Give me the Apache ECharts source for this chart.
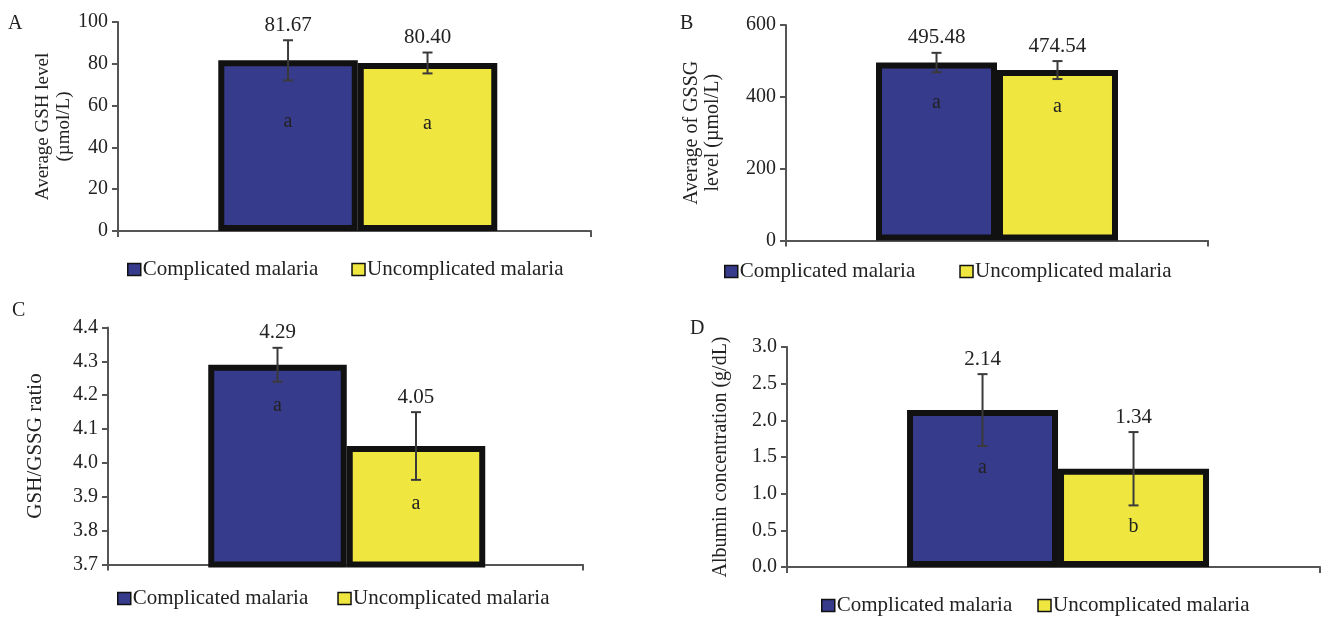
<!DOCTYPE html>
<html>
<head>
<meta charset="utf-8">
<script src="https://cdn.jsdelivr.net/npm/echarts@6/dist/echarts.min.js"></script>
<style>
  html, body { margin: 0; padding: 0; background: #fff; }
  #chart { width: 1322px; height: 618px; }
</style>
</head>
<body>
<div id="chart"></div>
<script>
// groups compared in every panel
const groups = ['Complicated malaria', 'Uncomplicated malaria'];

// A: GSH
const gshMean = [81.67, 80.40];
const gshErr = [9.6, 5];
const gshLetters = ['a', 'a'];
const gshTicks = [0, 100, 20];

// B: GSSG
const gssgMean = [495.48, 474.54];
const gssgErr = [27, 25];
const gssgLetters = ['a', 'a'];
const gssgTicks = [0, 600, 200];

// C: GSH/GSSG ratio
const ratioMean = [4.29, 4.05];
const ratioErr = [0.05, 0.1];
const ratioLetters = ['a', 'a'];
const ratioTicks = [3.7, 4.4, 0.1];

// D: albumin
const albMean = [2.14, 1.34];
const albErr = [0.49, 0.5];
const albLetters = ['a', 'b'];
const albTicks = [0, 3, 0.5];

const BLUE = '#373b8b';
const YELLOW = '#efe73f';
const FONT = '"Liberation Serif", "DejaVu Serif", serif';

// layout of each panel (pixels)
const panels = [
  { tag: 'A', mean: gshMean, err: gshErr, letters: gshLetters, ticks: gshTicks, dec: 0,
    grid: { left: 118, top: 22, width: 473, height: 209 }, xMin: -1.219, xMax: 2.172, barW: 139.5,
    name: 'Average GSH level\n(µmol/L)', nameSize: 19, nameGap: 43,
    letterOff: [61, 61], titlePos: [8, 14], legendPos: [127, 259], legendGap: 33 },
  { tag: 'B', mean: gssgMean, err: gssgErr, letters: gssgLetters, ticks: gssgTicks, dec: 0,
    grid: { left: 786, top: 25, width: 422, height: 215.5 }, xMin: -1.244, xMax: 2.244, barW: 121,
    name: 'Average of GSSG\nlevel (µmol/L)', nameSize: 20, nameGap: 63,
    letterOff: [40, 37], titlePos: [680, 14], legendPos: [724, 261], legendGap: 44 },
  { tag: 'C', mean: ratioMean, err: ratioErr, letters: ratioLetters, ticks: ratioTicks, dec: 1,
    grid: { left: 108, top: 327.5, width: 475, height: 237 }, xMin: -1.224, xMax: 2.206, barW: 138.5,
    name: 'GSH/GSSG ratio', nameSize: 21, nameGap: 62,
    letterOff: [41, 58], titlePos: [12, 301], legendPos: [117, 588], legendGap: 29 },
  { tag: 'D', mean: albMean, err: albErr, letters: albLetters, ticks: albTicks, dec: 1,
    grid: { left: 787, top: 347, width: 533, height: 220 }, xMin: -1.295, xMax: 2.235, barW: 151,
    name: 'Albumin concentration (g/dL)', nameSize: 20, nameGap: 56,
    letterOff: [58, 58], titlePos: [690, 319], legendPos: [821, 595], legendGap: 25 }
];

const chart = echarts.init(document.getElementById('chart'));

const option = {
  backgroundColor: '#fff',
  animation: false,
  textStyle: { fontFamily: FONT },
  title: panels.map((p) => ({
    text: p.tag, left: p.titlePos[0], top: p.titlePos[1], padding: 0,
    textStyle: { fontFamily: FONT, fontSize: 20, fontWeight: 'normal', color: '#222' }
  })),
  legend: panels.map((p) => ({
    data: groups, left: p.legendPos[0], top: p.legendPos[1], padding: 0,
    icon: 'rect', itemWidth: 13, itemHeight: 12, itemGap: p.legendGap,
    itemStyle: { borderColor: '#111', borderWidth: 1.5 },
    textStyle: { fontFamily: FONT, fontSize: 21, color: '#222', padding: [0, 0, 0, -3] },
    selectedMode: false
  })),
  grid: panels.map((p) => p.grid),
  xAxis: panels.map((p, i) => ({
    type: 'value', gridIndex: i, min: p.xMin, max: p.xMax, interval: p.xMax - p.xMin,
    axisLine: { show: true, onZero: false, lineStyle: { color: '#555', width: 2 } },
    axisTick: { show: true, length: 6, lineStyle: { color: '#555', width: 2 } },
    axisLabel: { show: false }, splitLine: { show: false }
  })),
  yAxis: panels.map((p, i) => ({
    type: 'value', gridIndex: i, min: p.ticks[0], max: p.ticks[1], interval: p.ticks[2],
    name: p.name, nameLocation: 'middle', nameGap: p.nameGap,
    nameTextStyle: { fontFamily: FONT, fontSize: p.nameSize, color: '#222', lineHeight: 21 },
    axisLine: { show: true, onZero: false, lineStyle: { color: '#555', width: 2 } },
    axisTick: { show: true, length: 6, lineStyle: { color: '#555', width: 2 } },
    axisLabel: {
      fontFamily: FONT, fontSize: 20, color: '#222', margin: 10,
      formatter: (v) => v.toFixed(p.dec)
    },
    splitLine: { show: false }
  })),
  series: []
};

panels.forEach((p, i) => {
  groups.forEach((g, k) => {
    option.series.push({
      name: g, type: 'bar', xAxisIndex: i, yAxisIndex: i,
      data: [[k, p.mean[k]]], barWidth: p.barW, barGap: '-100%', clip: true,
      itemStyle: { color: k === 0 ? BLUE : YELLOW, borderColor: '#111', borderWidth: 6 },
      z: 2
    });
  });

  // error bars, value labels and significance letters
  option.series.push({
    type: 'custom', xAxisIndex: i, yAxisIndex: i, z: 5,
    data: p.mean.map((m, k) => [k, m, p.err[k]]),
    renderItem: (params, api) => {
      const idx = params.dataIndex;
      const x = api.value(0), v = api.value(1), e = api.value(2);
      const top = api.coord([x, v + e]);
      const bot = api.coord([x, v - e]);
      const mid = api.coord([x, v]);
      const cap = 5;
      const ls = { stroke: '#3a3a3a', lineWidth: 2 };
      return {
        type: 'group',
        children: [
          { type: 'line', shape: { x1: top[0], y1: top[1], x2: bot[0], y2: bot[1] }, style: ls },
          { type: 'line', shape: { x1: top[0] - cap, y1: top[1], x2: top[0] + cap, y2: top[1] }, style: ls },
          { type: 'line', shape: { x1: bot[0] - cap, y1: bot[1], x2: bot[0] + cap, y2: bot[1] }, style: ls },
          { type: 'text', x: top[0], y: top[1] - 15,
            style: { text: v.toFixed(2), fill: '#222', font: '21px ' + FONT, align: 'center', verticalAlign: 'middle' } },
          { type: 'text', x: mid[0], y: mid[1] + p.letterOff[idx],
            style: { text: p.letters[idx], fill: '#222', font: '20px ' + FONT, align: 'center', verticalAlign: 'middle' } }
        ]
      };
    }
  });
});

chart.setOption(option);
</script>
</body>
</html>
